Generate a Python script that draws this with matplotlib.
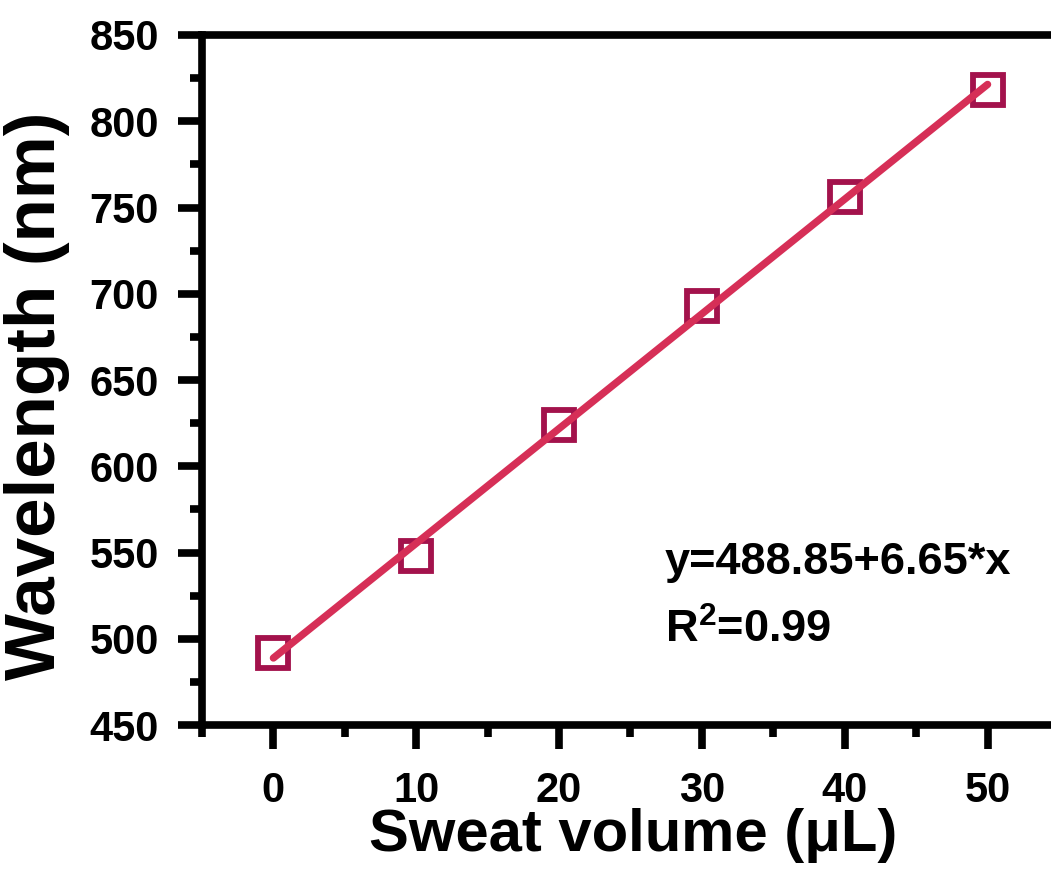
#!/usr/bin/env python3
"""Wavelength shift vs. sweat volume, with linear fit."""
import matplotlib
matplotlib.use("Agg")
import matplotlib.pyplot as plt
from matplotlib.ticker import MultipleLocator

plt.rcParams.update({
    "font.family": "Liberation Sans",
    "font.weight": "bold",
    "axes.labelweight": "bold",
    "mathtext.fontset": "custom",
    "mathtext.rm": "Liberation Sans:bold",
    "mathtext.bf": "Liberation Sans:bold",
})

# measured points
volume_ul = [0, 10, 20, 30, 40, 50]
wavelength_nm = [492, 548, 624, 693, 756, 818]

# linear fit reported on the chart
fit_intercept = 488.85
fit_slope = 6.65
fit_r2 = 0.99

x_ticks = [0, 10, 20, 30, 40, 50]
y_ticks = [450, 500, 550, 600, 650, 700, 750, 800, 850]

MARKER_C = "#a3124c"
LINE_C = "#d62f57"

fig = plt.figure(figsize=(10.51, 8.75), dpi=100)
ax = fig.add_axes([0.1922, 0.1714, 0.8154, 0.7886])

ax.plot(volume_ul, wavelength_nm, linestyle="none", marker="s",
        markersize=21, markerfacecolor="none", markeredgecolor=MARKER_C,
        markeredgewidth=4.2, zorder=2)

fit_x = [volume_ul[0], volume_ul[-1]]
fit_y = [fit_intercept + fit_slope * v for v in fit_x]
ax.plot(fit_x, fit_y, color=LINE_C, linewidth=5.3, solid_capstyle="round", zorder=3)

ax.set_xlim(-5, 55)
ax.set_ylim(450, 850)
ax.set_xticks(x_ticks)
ax.set_yticks(y_ticks)
ax.xaxis.set_minor_locator(MultipleLocator(5))
ax.yaxis.set_minor_locator(MultipleLocator(25))

for sp in ax.spines.values():
    sp.set_linewidth(5.5)
    sp.set_color("black")

ax.tick_params(which="major", direction="out", length=17, width=5.5,
               labelsize=30, pad=14)
ax.tick_params(axis="x", which="major", pad=16)
ax.tick_params(which="minor", direction="out", length=8.5, width=5.5)
for lab in ax.get_xticklabels() + ax.get_yticklabels():
    lab.set_fontweight("bold")

ax.set_xlabel("Sweat volume (μL)", fontsize=43, fontweight="bold", va="center")
ax.set_ylabel("Wavelength (nm)", fontsize=51, fontweight="bold", va="center")
ax.xaxis.set_label_coords(0.503, -0.16)
ax.yaxis.set_label_coords(-0.192, 0.477)

ax.text(27.4, 537.6, f"y={fit_intercept:.2f}+{fit_slope:.2f}*x",
        fontsize=32.5, fontweight="bold", va="baseline", ha="left")
ax.text(27.4, 498, f"R$^{{2}}$={fit_r2:.2f}",
        fontsize=32.5, fontweight="bold", va="baseline", ha="left")

fig.savefig("out.png", dpi=100)
